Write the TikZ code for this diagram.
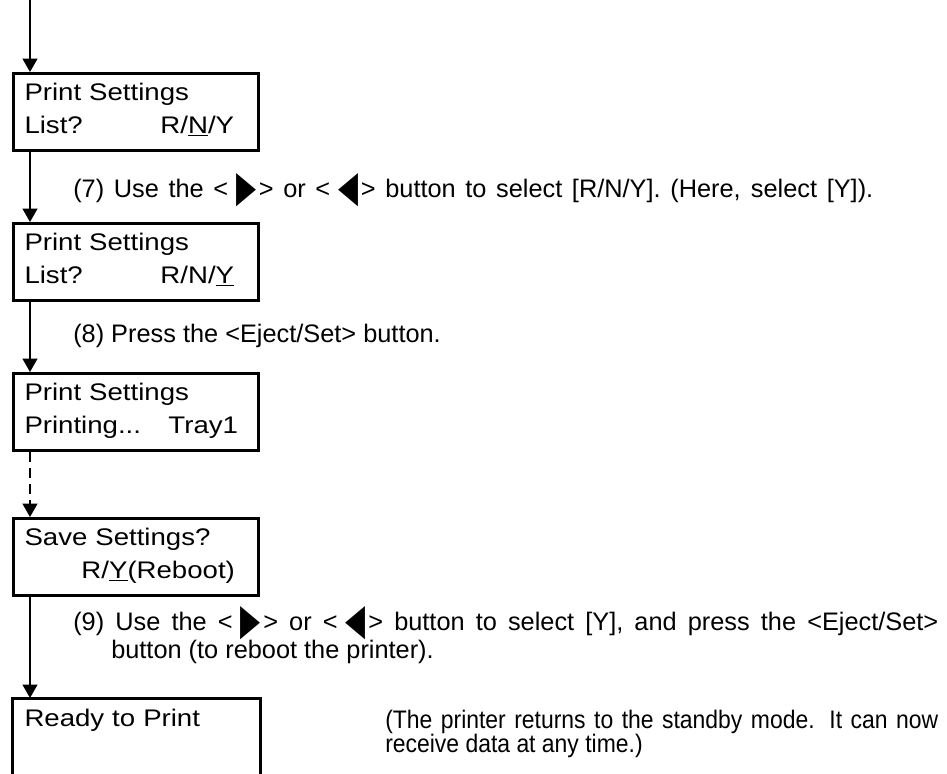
\documentclass[tikz,border=0pt]{standalone}
\usepackage{fontspec}
\setmainfont{Liberation Sans}
\newfontfamily\lcdfont{Liberation Sans}[FakeStretch=1.15]
\newfontfamily\narrowfont{Liberation Sans}[FakeStretch=0.905]
\newfontfamily\symfont{DejaVu Sans}
\usetikzlibrary{arrows.meta}

\newcommand{\rtri}{\hspace{6pt}\raisebox{-3pt}[0pt][0pt]{\resizebox{15pt}{21pt}{\symfont ▶}}\hspace{2pt}}
\newcommand{\ltri}{\hspace{6pt}\raisebox{-3pt}[0pt][0pt]{\resizebox{15pt}{21pt}{\symfont ◀}}\hspace{2pt}}

\tikzset{
  lcd/.style={draw, line width=2.25pt, anchor=north west, inner xsep=8.25pt, inner ysep=0pt,
    text width=167.25pt, text height=20.25pt, text depth=37.5pt, align=left,
    font=\lcdfont\fontsize{18}{24.75}\selectfont},
  note/.style={anchor=base west, inner sep=0pt, align=left,
    font=\fontsize{19}{18}\selectfont},
  flow/.style={line width=1.5pt, -{Triangle[length=10pt,width=11pt]}}
}

\begin{document}
\begin{tikzpicture}[x=0.75pt,y=-0.75pt]
\useasboundingbox (0,0) rectangle (947,774);

\coordinate (top) at (30,0);

% display boxes
\node[lcd] (b1) at (12,72) {Print Settings\\\makebox[102pt][l]{List?}R/\underline{N}/Y};
\node[lcd] (b2) at (12,222) {Print Settings\\\makebox[102pt][l]{List?}R/N/\underline{Y}};
\node[lcd] (b3) at (12,372) {Print Settings\\\makebox[108pt][l]{Printing...}Tray1};
\node[lcd] (b4) at (12,517) {Save Settings?\\\hspace*{42.75pt}R/\underline{Y}(Reboot)};
\node[lcd, draw=none, text depth=70pt] (b5) at (12,698) {Ready to Print};
\draw[line width=2.25pt] (b5.south west) |- (b5.north) -| (b5.south east);

% flow
\draw[flow] (top) -- (top |- b1.north);
\draw[flow] (b1.south -| top) -- (top |- b2.north);
\draw[flow] (b2.south -| top) -- (top |- b3.north);
\draw[flow, dash pattern=on 7.5pt off 4.5pt] (b3.south -| top) -- (top |- b4.north);
\draw[flow] (b4.south -| top) -- (top |- b5.north);

% steps
\node[note] (s7) at (73,197) {\makebox[600pt][s]{(7) Use the <\rtri> or <\ltri> button to select [R/N/Y]. (Here, select [Y]).}};
\node[note] (s8) at (73,342) {(8) Press the <Eject/Set> button.};
\node[note] (s9) at (73,658) {\makebox[648.75pt][s]{(9) Use the <\rtri> or <\ltri> button to select [Y], and press the <Eject/Set>}\\[3pt]
  \hphantom{(9)~}button (to reboot the printer).};
\node[note, font=\narrowfont\fontsize{19}{18}\selectfont] (ready) at (385,752) {\makebox[414.75pt][s]{(The printer returns to the standby mode. It can now}\\
  receive data at any time.)};
\end{tikzpicture}
\end{document}
